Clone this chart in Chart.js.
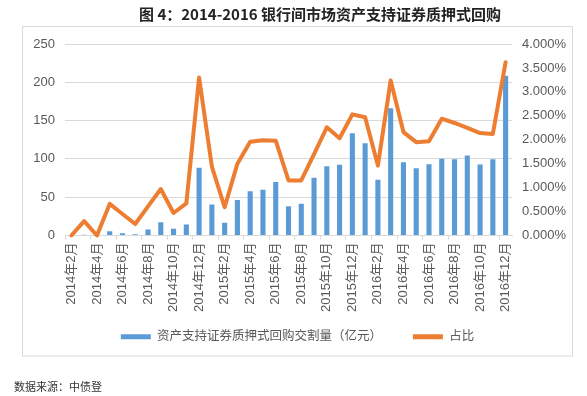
<!DOCTYPE html>
<html>
<head>
<meta charset="utf-8">
<script src="https://cdn.jsdelivr.net/npm/chart.js@4.4.0/dist/chart.umd.min.js"></script>
<style>
  html, body { margin: 0; background: #fff; }
  canvas { display: block; }
</style>
</head>
<body>
<canvas id="chart" width="587" height="396"></canvas>
<script>
const months = [
    '2014年2月', '2014年3月', '2014年4月', '2014年5月', '2014年6月', '2014年7月',
    '2014年8月', '2014年9月', '2014年10月', '2014年11月', '2014年12月',
    '2015年1月', '2015年2月', '2015年3月', '2015年4月', '2015年5月', '2015年6月',
    '2015年7月', '2015年8月', '2015年9月', '2015年10月', '2015年11月', '2015年12月',
    '2016年1月', '2016年2月', '2016年3月', '2016年4月', '2016年5月', '2016年6月',
    '2016年7月', '2016年8月', '2016年9月', '2016年10月', '2016年11月', '2016年12月'
];

// 交割量（亿元）
const volume = [
    0, 1, 0, 5.7, 3, 1.7, 7.8, 17.4, 8.7, 14.4, 88.3,
    40.5, 16.5, 46.5, 57.9, 59.6, 70, 38.3, 41.3, 75.3, 90.5, 92.2, 133.6,
    120.5, 72.7, 166.2, 95.7, 87.9, 93.1, 100.1, 99.7, 104.4, 92.7, 99.7, 208.5
];

// 占比（%）
const share = [
    0, 0.30, 0, 0.66, 0.45, 0.24, 0.61, 0.97, 0.47, 0.67, 3.30,
    1.44, 0.59, 1.50, 1.96, 1.99, 1.98, 1.15, 1.15, 1.70, 2.26, 2.03, 2.53,
    2.47, 1.46, 3.24, 2.16, 1.95, 1.97, 2.44, 2.35, 2.25, 2.14, 2.12, 3.62
];

const titleText = '图 4：2014-2016 银行间市场资产支持证券质押式回购';
const sourceText = '数据来源：中债登';

const FONT = '"Liberation Sans", "Noto Sans CJK SC", sans-serif';
const GREY = '#595959';
const GRID = '#d9d9d9';

// box, title and source line around the chart
const frame = {
    id: 'frame',
    beforeDraw(chart) {
        const ctx = chart.ctx;
        ctx.save();
        ctx.fillStyle = '#fff';
        ctx.fillRect(0, 0, chart.width, chart.height);
        ctx.strokeStyle = GRID;
        ctx.lineWidth = 1;
        ctx.strokeRect(22.5, 26.5, 550, 329.5);
        ctx.restore();
    },
    afterDraw(chart) {
        const ctx = chart.ctx;
        ctx.save();
        ctx.fillStyle = '#222';
        ctx.font = 'bold 15px "Noto Sans CJK SC"';
        ctx.textAlign = 'center';
        ctx.textBaseline = 'middle';
        ctx.fillText(titleText, 320, 14);
        ctx.fillStyle = '#333';
        ctx.font = '11px "Noto Sans CJK SC"';
        ctx.textAlign = 'left';
        ctx.fillText(sourceText, 14, 387);
        ctx.restore();
    }
};

const chart = new Chart(document.getElementById('chart'), {
    type: 'bar',
    data: {
        labels: months,
        datasets: [
            {
                type: 'bar',
                label: '资产支持证券质押式回购交割量（亿元）',
                data: volume,
                backgroundColor: '#5b9bd5',
                yAxisID: 'y',
                barPercentage: 0.4,
                categoryPercentage: 1,
                order: 2
            },
            {
                type: 'line',
                label: '占比',
                data: share,
                borderColor: '#ed7d31',
                backgroundColor: '#ed7d31',
                borderWidth: 4,
                pointRadius: 0,
                tension: 0,
                borderJoinStyle: 'round',
                borderCapStyle: 'round',
                yAxisID: 'y1',
                clip: false,
                order: 1
            }
        ]
    },
    options: {
        responsive: false,
        animation: false,
        devicePixelRatio: 1,
        layout: {
            padding: { left: 22, right: 14, top: 44, bottom: 43 }
        },
        scales: {
            x: {
                grid: {
                    drawOnChartArea: false,
                    tickLength: 4,
                    color: ctx => ctx.index % 2 === 0 ? GRID : 'rgba(0,0,0,0)'
                },
                border: { color: GRID },
                ticks: {
                    autoSkip: false,
                    maxRotation: 90,
                    minRotation: 90,
                    padding: 3,
                    color: GREY,
                    font: { family: FONT, size: 13 },
                    callback: function (value, index) {
                        return index % 2 === 0 ? this.getLabelForValue(value) : '';
                    }
                },
                afterFit(scale) { scale.height = 85; }
            },
            y: {
                position: 'left',
                min: 0,
                max: 250,
                grid: { color: GRID, drawTicks: false },
                border: { display: false },
                ticks: {
                    stepSize: 50,
                    padding: 10,
                    color: GREY,
                    font: { family: FONT, size: 13 }
                },
                afterFit(scale) { scale.width = 43; }
            },
            y1: {
                position: 'right',
                min: 0,
                max: 4,
                grid: { drawOnChartArea: false, drawTicks: false },
                border: { display: false },
                ticks: {
                    stepSize: 0.5,
                    padding: 10,
                    color: GREY,
                    font: { family: FONT, size: 13 },
                    callback: v => v.toFixed(3) + '%'
                },
                afterFit(scale) { scale.width = 61; }
            }
        },
        plugins: {
            legend: {
                position: 'bottom',
                labels: {
                    boxWidth: 30,
                    boxHeight: 5,
                    padding: 10,
                    color: GREY,
                    font: { family: FONT, size: 12.5 },
                    sort: (a, b) => a.datasetIndex - b.datasetIndex,
                    generateLabels(chart) {
                        const items = Chart.defaults.plugins.legend.labels.generateLabels(chart);
                        items.forEach(item => {
                            item.strokeStyle = 'rgba(0,0,0,0)';
                            // a wider gap between the two entries
                            if (item.datasetIndex === 0) item.text += '      ';
                        });
                        return items;
                    }
                }
            },
            tooltip: { enabled: false }
        }
    },
    plugins: [frame]
});
</script>
</body>
</html>
